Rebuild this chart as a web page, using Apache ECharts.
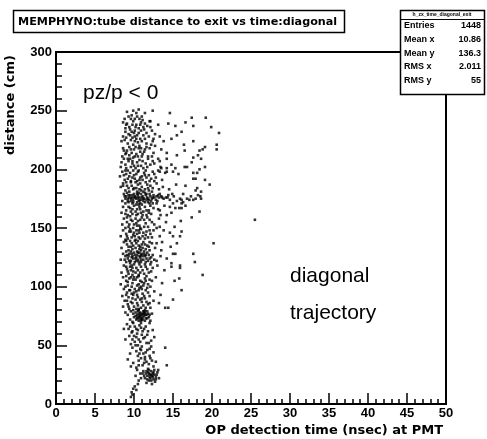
<!DOCTYPE html>
<html>
<head>
<meta charset="utf-8">
<script src="https://cdn.jsdelivr.net/npm/echarts@6/dist/echarts.min.js"></script>
<style>html,body{margin:0;padding:0;background:#fff;}#c{width:487px;height:439px;}</style>
</head>
<body>
<div id="c"></div>
<script>
// ---- data (time in ns, distance in cm) ----
const band240 = [[9.1,249],[9.7,246],[10.3,248],[11.4,248],[8.8,243],[9.3,245],[10.1,243],[12.1,241],[14.6,248],[17.4,244],[19.2,244],[10.6,251],[9.9,250],[11.0,245],[12.4,250]];
const band230 = [[9.1,239],[9.8,238],[10.3,238],[10.8,238],[12.0,241],[11.7,237],[14.4,239],[15.3,237],[16.6,240],[17.6,237],[19.9,236],[16.1,232],[20.9,231],[9.7,232],[10.1,233],[10.6,231],[8.9,235],[11.3,234],[9.4,236],[12.3,233],[13.1,238],[10.9,240],[8.6,240]];
const band220 = [[9.5,229],[10.1,228],[8.6,228],[8.8,225],[8.4,224],[11.2,229],[10.8,226],[12.5,226],[13.3,228],[13.8,224],[14.8,226],[15.5,229],[16.4,221],[17.6,224],[20.6,221],[9.2,222],[9.9,221],[10.5,223],[11.6,222],[9.6,225],[10.3,226],[11.9,228],[9.0,227],[12.2,221],[10.7,220]];
const band210 = [[12.7,220],[13.5,217],[20.6,217],[19.1,219],[18.8,217],[18.4,216],[16.5,216],[8.6,218],[9.1,216],[9.7,214],[10.2,219],[10.8,215],[11.4,217],[9.4,212],[10.5,211],[11.1,213],[12.5,214],[14.2,214],[15.5,212],[8.9,213],[10.0,217],[11.8,211],[9.9,210],[12.0,218],[8.5,211],[10.6,218],[18.2,212]];
const band200 = [[13.1,209],[13.3,207],[14.2,209],[17.6,210],[18.6,209],[17.4,206],[16.8,202],[19.1,202],[14.8,204],[16.5,202],[8.4,206],[8.9,204],[9.3,207],[9.8,205],[10.4,206],[10.9,203],[11.5,205],[12.1,204],[9.0,201],[9.6,202],[10.2,201],[10.7,208],[11.2,201],[8.7,209],[12.4,207],[13.4,202],[9.5,209],[10.0,203],[11.8,209],[8.3,202],[15.3,201],[13.5,201],[14.2,201]];
const band190 = [[18.4,200],[17.6,197],[18.1,197],[17.6,192],[17.9,192],[19.1,191],[13.1,199],[14.0,197],[15.0,198],[15.7,196],[8.5,198],[9.0,196],[9.4,194],[9.9,199],[10.3,196],[10.8,193],[11.3,197],[11.9,195],[12.4,198],[8.8,191],[9.6,190],[10.1,192],[10.6,199],[11.1,191],[12.0,190],[9.2,199],[12.8,193],[13.6,191],[8.2,194],[10.4,190],[11.6,193],[13.3,198],[14.2,198]];
const band180 = [[19.7,187],[16.6,186],[17.9,182],[18.1,184],[18.6,181],[8.6,188],[9.1,186],[9.6,189],[10.0,184],[10.5,187],[11.0,185],[11.5,189],[12.1,186],[8.9,182],[9.4,181],[9.9,183],[10.4,181],[10.9,182],[11.4,183],[12.3,181],[12.9,188],[13.7,185],[14.5,183],[15.4,187],[10.2,189],[8.3,185],[11.8,184]];
const band170 = [[18.2,178],[18.5,177],[17.9,175],[16.3,179],[17.3,177],[17.6,174],[17.1,174],[15.9,175],[16.1,174],[16.3,172],[18.6,175],[8.7,179],[9.0,177],[9.2,175],[9.5,178],[9.7,176],[9.9,174],[10.1,177],[10.3,175],[10.5,178],[10.7,176],[10.9,174],[11.1,177],[11.3,175],[11.5,178],[11.7,176],[11.9,174],[12.1,177],[12.3,175],[12.6,176],[12.9,177],[13.2,176],[13.5,177],[13.8,175],[14.1,176],[14.6,174],[15.1,177],[9.3,172],[9.8,171],[10.4,172],[10.8,171],[11.2,173],[11.8,172],[12.4,171],[9.1,180],[10.0,179],[10.6,180],[11.4,180],[12.0,179],[8.5,173],[13.0,173],[14.4,178],[15.5,173],[9.6,173],[10.2,176],[10.6,174],[11.0,176],[11.6,174],[12.2,173],[9.4,176],[12.8,174],[8.9,175],[13.3,179],[14.9,179],[16.8,175],[16.1,171],[15.0,171]];
const band160 = [[18.4,164],[8.6,168],[9.0,165],[9.5,167],[10.0,169],[10.4,166],[10.9,163],[11.4,168],[11.9,165],[12.5,167],[9.2,161],[9.8,162],[10.3,161],[10.7,168],[11.2,164],[12.2,162],[13.1,166],[13.9,169],[14.8,163],[15.8,167],[16.6,169],[8.4,163],[10.6,170],[11.6,161],[13.4,161],[15.3,167],[16.1,167],[14.6,168],[13.3,165],[14.2,161]];
const band150 = [[17.4,159],[8.7,158],[9.1,155],[9.6,157],[10.0,153],[10.5,156],[11.0,159],[11.5,154],[12.0,157],[9.3,151],[9.9,150],[10.4,152],[10.8,150],[11.3,151],[12.6,153],[13.2,158],[14.1,155],[15.2,151],[8.5,153],[11.7,159],[9.5,160],[10.2,158],[12.9,150],[16.0,156],[25.5,157],[13.3,151]];
const band140 = [[8.6,148],[9.0,145],[9.4,147],[9.9,144],[10.3,148],[10.7,146],[11.1,143],[11.6,147],[12.1,145],[9.2,141],[9.7,142],[10.2,140],[10.6,142],[11.4,141],[12.5,148],[13.3,143],[14.6,146],[8.3,143],[10.9,149],[11.8,142],[9.5,149],[13.8,148],[10.0,146],[15.0,143],[16.1,147],[15.9,143]];
const band130 = [[8.7,138],[9.1,136],[9.5,139],[9.9,135],[10.3,137],[10.8,134],[11.2,138],[11.7,135],[12.3,137],[9.3,131],[9.8,132],[10.4,130],[10.9,131],[11.5,132],[12.7,133],[13.6,138],[14.7,134],[8.4,133],[10.1,139],[11.0,136],[12.0,131],[15.5,137],[9.6,134],[20.2,137],[12.9,137],[13.5,131]];
const band120 = [[8.6,128],[8.9,126],[9.2,124],[9.4,128],[9.6,122],[9.8,126],[10.0,129],[10.2,124],[10.4,127],[10.6,121],[10.8,125],[11.0,128],[11.2,123],[11.4,126],[11.7,129],[12.0,124],[12.4,127],[12.9,122],[9.0,121],[9.5,120],[10.1,121],[10.7,129],[11.5,121],[13.4,126],[14.2,124],[15.3,128],[8.3,123],[10.3,125],[10.9,123],[11.1,126],[9.7,125],[11.9,127],[10.5,129],[12.2,121],[17.6,128],[15.0,128],[17.8,121],[14.8,120]];
const band110 = [[8.7,118],[9.1,115],[9.5,117],[9.9,113],[10.3,116],[10.7,119],[11.1,114],[11.5,117],[11.9,112],[12.4,116],[9.3,111],[9.8,110],[10.2,112],[10.6,110],[11.3,111],[13.0,118],[13.9,114],[8.4,112],[10.0,119],[12.1,119],[14.8,117],[9.6,114],[18.8,110],[15.9,118],[15.9,116]];
const band100 = [[8.6,108],[9.0,105],[9.4,107],[9.8,103],[10.2,106],[10.6,109],[11.0,104],[11.4,107],[11.8,102],[12.3,105],[9.2,101],[9.7,100],[10.4,101],[10.9,100],[11.6,109],[12.8,108],[13.6,103],[8.3,102],[10.0,108],[11.2,101],[15.2,105],[12.1,100],[15.8,107]];
const band90 = [[8.7,98],[9.1,95],[9.5,97],[9.9,93],[10.3,96],[10.7,99],[11.1,94],[11.5,97],[12.0,92],[9.3,91],[9.8,90],[10.5,91],[11.0,90],[11.7,99],[12.6,96],[13.4,93],[8.5,92],[10.1,98],[11.3,92],[16.1,97]];
const band80 = [[8.8,88],[9.2,85],[9.6,87],[10.0,83],[10.4,86],[10.8,89],[11.2,84],[11.6,87],[12.1,82],[9.4,81],[9.9,80],[10.6,81],[11.4,80],[12.5,88],[8.6,83],[10.2,89],[11.8,85],[13.2,86],[15.0,89],[14.0,82],[14.4,82]];
const band70 = [[10.2,78],[10.4,76],[10.5,74],[10.6,77],[10.7,75],[10.8,78],[10.9,73],[11.0,76],[11.1,74],[11.2,77],[11.3,75],[11.4,78],[11.5,73],[11.6,76],[10.3,72],[10.9,71],[11.7,79],[9.6,79],[9.2,76],[9.5,72],[10.0,74],[11.9,74],[12.3,77],[12.1,71],[8.9,78],[10.6,80],[11.3,79],[9.8,70],[10.4,73],[11.0,72],[12.0,76]];
const band60 = [[9.1,68],[9.5,66],[9.9,69],[10.3,64],[10.7,67],[11.1,62],[11.5,66],[12.0,69],[9.7,61],[10.4,60],[11.3,64],[12.4,63],[8.7,64],[10.1,66],[10.9,69]];
const band50 = [[9.4,58],[9.8,55],[10.3,57],[10.8,53],[11.2,56],[11.7,59],[12.2,54],[9.6,51],[10.5,50],[11.0,59],[11.6,52],[12.6,57],[8.9,55],[10.1,53]];
const band40 = [[9.8,48],[10.3,45],[10.8,47],[11.2,43],[11.7,46],[12.2,49],[10.5,41],[11.4,40],[12.5,44],[9.5,43],[14.0,48],[11.0,49],[12.0,41]];
const band30 = [[9.2,38],[9.9,35],[10.6,37],[11.1,33],[11.6,36],[12.1,39],[12.5,32],[10.3,31],[11.8,30],[14.2,33],[9.6,32],[11.4,38],[12.8,36]];
const band20 = [[11.2,28],[11.5,26],[11.7,24],[11.8,27],[12.0,25],[12.1,22],[12.2,28],[12.3,24],[12.4,26],[12.5,21],[12.6,25],[12.8,23],[13.0,27],[11.4,22],[11.9,20],[12.7,19],[10.8,26],[10.4,29],[10.9,22],[13.2,22],[11.6,18],[12.3,17],[10.6,20],[13.1,29],[10.2,24]];
const band10 = [[10.1,15],[9.9,13],[10.3,12],[9.7,10],[9.8,8],[9.6,6],[10.5,17]];
// extra points in the dense core of the band
const coreA = [[9.6,243],[10.4,245],[11.1,242],[9.0,238],[9.5,234],[10.2,236],[10.9,233],[11.6,231],[9.3,230],[10.0,231],[10.6,235],[11.4,239],[8.9,232],[12.1,236],[9.8,227],[10.4,229],[11.0,224],[11.4,226],[9.4,219],[10.1,224],[10.9,218],[11.6,219],[9.0,214],[9.6,217],[10.3,213],[11.0,211],[11.3,215],[9.2,209],[9.8,207],[10.5,203],[11.1,207],[11.7,202],[12.6,205],[10.1,211],[8.7,216],[12.3,211],[9.9,241],[10.7,243],[11.2,236],[12.7,230],[12.4,224]];
const coreB = [[8.9,199],[9.5,197],[10.0,195],[10.5,198],[11.0,194],[11.5,199],[12.2,192],[9.2,192],[9.8,193],[10.7,191],[11.4,195],[12.6,196],[8.7,195],[9.7,186],[10.3,184],[10.8,188],[11.2,181],[11.7,187],[12.4,184],[9.3,184],[9.0,189],[10.7,183],[11.9,182],[13.2,183],[12.6,190],[8.6,186]];
const coreC = [[9.3,178],[9.8,178],[10.4,179],[10.9,179],[11.6,179],[12.5,178],[13.1,178],[8.8,177],[9.6,175],[10.0,176],[10.5,176],[11.2,175],[11.8,175],[12.4,176],[13.6,176],[14.3,176],[9.2,173],[9.9,172],[10.7,173],[11.4,172],[12.0,171],[12.9,171],[8.9,171],[10.3,170],[11.0,170]];
const coreD = [[9.3,168],[9.8,166],[10.2,164],[10.8,166],[11.6,165],[12.1,169],[8.9,162],[9.6,164],[10.5,162],[11.1,161],[11.9,163],[9.1,159],[9.8,156],[10.3,154],[10.8,157],[11.3,157],[12.3,155],[9.4,153],[10.7,152],[11.8,151],[8.9,150],[9.6,147],[10.1,143],[10.6,148],[11.2,146],[12.0,148],[9.1,143],[10.4,145],[11.5,144],[12.3,142],[8.9,140],[10.8,141]];
const coreE = [[9.0,139],[9.7,137],[10.5,139],[10.6,135],[11.4,136],[12.0,138],[9.3,134],[10.2,133],[11.1,133],[11.9,134],[9.0,130],[9.6,130],[10.7,132],[11.3,130],[9.1,127],[9.3,126],[9.9,124],[10.1,127],[10.5,123],[10.7,126],[10.9,121],[11.3,128],[11.6,124],[12.2,125],[12.6,123],[8.8,123],[9.4,122],[10.3,122],[11.8,122],[9.7,128],[10.9,127],[11.5,127],[9.0,117],[9.7,118],[10.5,114],[10.9,117],[11.7,115],[12.2,113],[9.2,113],[9.8,116],[10.8,112],[11.4,119]];
const coreF = [[9.0,109],[9.6,108],[10.4,108],[10.8,105],[11.3,103],[12.0,106],[9.2,104],[9.9,106],[10.6,102],[11.5,105],[8.9,100],[9.4,97],[10.0,95],[10.6,97],[11.0,98],[11.8,95],[9.0,93],[9.7,94],[10.4,93],[11.4,90],[9.1,88],[9.8,86],[10.5,84],[11.0,87],[11.5,82],[12.0,86],[9.3,83],[10.3,81],[10.9,82]];
const coreG = [[10.5,79],[10.9,77],[11.2,79],[11.5,76],[11.1,72],[11.4,71],[10.7,73],[10.2,75],[11.8,77],[10.8,75],[11.3,77],[11.7,73],[10.6,71],[9.9,77]];
const coreH = [[9.3,64],[9.8,62],[10.5,63],[10.9,65],[11.8,62],[10.0,58],[10.6,55],[11.4,57],[11.9,52],[10.2,50],[10.9,46],[11.5,44],[12.0,47],[10.7,43],[11.3,35],[11.9,34],[10.9,39],[12.3,37],[10.6,33]];
const coreI = [[11.6,28],[11.9,26],[12.2,25],[12.5,27],[12.0,23],[12.4,23],[12.9,25],[11.3,24],[11.7,21],[12.2,20],[12.8,21],[11.1,26],[12.6,29],[11.9,29]];

const xTicks = {min: 0, max: 50, interval: 5};
const yTicks = {min: 0, max: 300, interval: 50};

const chartTitle = 'MEMPHYNO:tube distance to exit vs time:diagonal';
const xTitle = 'OP detection time (nsec) at PMT';
const yTitle = 'distance (cm)';
const statsName = 'h_zx_time_diagonal_exit';
const statsLabels = ['Entries', 'Mean x', 'Mean y', 'RMS x', 'RMS y'];
const statsValues = ['1448', '10.86', '136.3', '2.011', '55'];
const note1 = 'pz/p < 0';
const note2 = ['diagonal', 'trajectory'];

const points = [].concat(band240, band230, band220, band210, band200, band190, band180, band170,
  band160, band150, band140, band130, band120, band110, band100, band90, band80, band70,
  band60, band50, band40, band30, band20, band10,
  coreA, coreB, coreC, coreD, coreE, coreF, coreG, coreH, coreI);

const FONT = 'Liberation Sans, Arial, Helvetica, sans-serif';
const WIDE = 'DejaVu Sans, Verdana, sans-serif';
const chart = echarts.init(document.getElementById('c'));

const gridL = 56, gridT = 52, gridW = 390, gridH = 352;

const graphics = [];
// title box
graphics.push({type:'rect', shape:{x:13.5, y:10.5, width:331, height:22}, style:{fill:'#fff', stroke:'#000', lineWidth:1.5}, z:10});
graphics.push({type:'text', x:18, y:22, style:{text:chartTitle, font:'bold 11.2px '+WIDE, fill:'#000', verticalAlign:'middle', align:'left'}, z:11});
// stats box
graphics.push({type:'rect', shape:{x:400.5, y:10.5, width:84, height:84}, style:{fill:'#fff', stroke:'#000', lineWidth:1.5}, z:10});
graphics.push({type:'line', shape:{x1:400.5, y1:19.5, x2:484.5, y2:19.5}, style:{stroke:'#000', lineWidth:1}, z:11});
graphics.push({type:'text', x:442, y:15, style:{text:statsName, font:'bold 5px '+FONT, fill:'#000', align:'center', verticalAlign:'middle'}, z:11});
statsLabels.forEach(function(lab, i){
  const yy = 25.5 + i*13.8;
  graphics.push({type:'text', x:404, y:yy, style:{text:lab, font:'bold 9px '+FONT, fill:'#000', align:'left', verticalAlign:'middle'}, z:11});
  graphics.push({type:'text', x:481, y:yy, style:{text:statsValues[i], font:'bold 9px '+FONT, fill:'#000', align:'right', verticalAlign:'middle'}, z:11});
});
// axis titles
graphics.push({type:'text', x:443, y:431, style:{text:xTitle, font:'bold 13px '+WIDE, fill:'#000', align:'right', verticalAlign:'middle'}, z:11});
graphics.push({type:'text', x:11, y:55, rotation:Math.PI/2, style:{text:yTitle, font:'bold 13px '+WIDE, fill:'#000', align:'right', verticalAlign:'middle'}, z:11});
// annotations
graphics.push({type:'text', x:83, y:93, style:{text:note1, font:'21px '+FONT, fill:'#000', align:'left', verticalAlign:'middle'}, z:11});
graphics.push({type:'text', x:290, y:276, style:{text:note2[0], font:'21px '+FONT, fill:'#000', align:'left', verticalAlign:'middle'}, z:11});
graphics.push({type:'text', x:290, y:313, style:{text:note2[1], font:'21px '+FONT, fill:'#000', align:'left', verticalAlign:'middle'}, z:11});

chart.setOption({
  animation: false,
  backgroundColor: '#fff',
  grid: {left: gridL, top: gridT, width: gridW, height: gridH, show: true, borderColor: '#000', borderWidth: 2, backgroundColor: 'transparent'},
  xAxis: {
    type: 'value', min: xTicks.min, max: xTicks.max, interval: xTicks.interval,
    axisLine: {show: true, onZero: false, lineStyle: {color: '#000', width: 2}},
    axisTick: {show: true, inside: true, length: 11, lineStyle: {color: '#000', width: 1.5}},
    minorTick: {show: true, splitNumber: 5, length: 5, lineStyle: {color: '#000', width: 1.5}},
    splitLine: {show: false},
    axisLabel: {color: '#000', fontFamily: FONT, fontWeight: 'bold', fontSize: 13, margin: 3}
  },
  yAxis: {
    type: 'value', min: yTicks.min, max: yTicks.max, interval: yTicks.interval,
    axisLine: {show: true, onZero: false, lineStyle: {color: '#000', width: 2}},
    axisTick: {show: true, inside: true, length: 11, lineStyle: {color: '#000', width: 1.5}},
    minorTick: {show: true, splitNumber: 5, length: 6, lineStyle: {color: '#000', width: 1.5}},
    splitLine: {show: false},
    axisLabel: {color: '#000', fontFamily: FONT, fontWeight: 'bold', fontSize: 13, margin: 4}
  },
  series: [{
    type: 'scatter', data: points, symbol: 'rect', symbolSize: 2.6,
    itemStyle: {color: '#000'}, silent: true
  }],
  graphic: graphics
});
</script>
</body>
</html>
